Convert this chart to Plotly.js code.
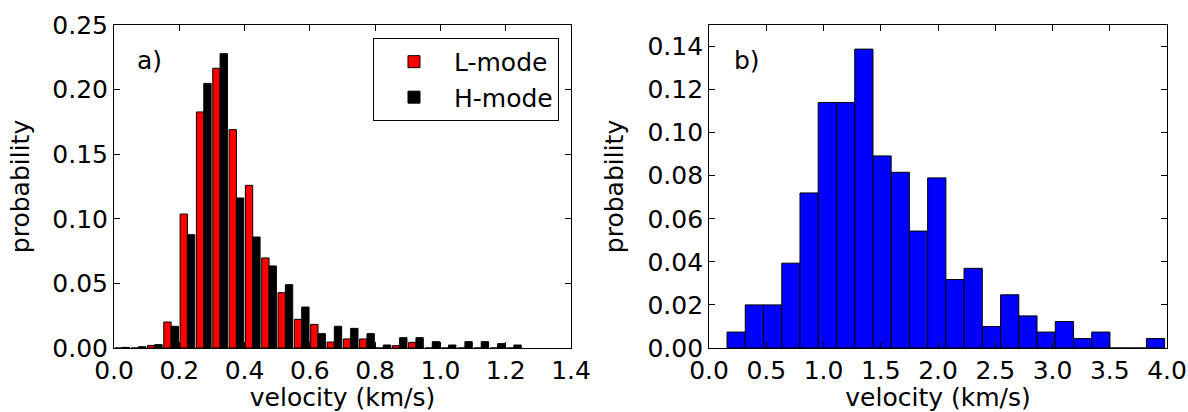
<!DOCTYPE html>
<html>
<head>
<meta charset="utf-8">
<script src="https://cdn.plot.ly/plotly-3.0.1.min.js"></script>
<style>html,body{margin:0;padding:0;background:#fff;}#chart{width:1188px;height:412px;}</style>
</head>
<body>
<div id="chart"></div>
<script>
// ---- Panel a) : velocity histogram, L-mode vs H-mode (bin width 0.05 km/s) ----
const binCentersA = [0.025,0.075,0.125,0.175,0.225,0.275,0.325,0.375,0.425,0.475,0.525,0.575,0.625,0.675,0.725,0.775,0.825,0.875,0.925,0.975,1.025,1.075,1.125,1.175,1.225];
const lMode = [0,0,0.0020,0.0201,0.1037,0.1827,0.2165,0.1690,0.1259,0.0697,0.0428,0.0222,0.0183,0.0046,0.0070,0.0070,0,0.0018,0.0044,0,0,0,0,0,0];
const hMode = [0.0005,0.0010,0.0026,0.0168,0.0877,0.2048,0.2278,0.1161,0.0859,0.0635,0.0490,0.0317,0.0111,0.0168,0.0152,0.0111,0.0023,0.0080,0.0080,0.0049,0.0023,0.0049,0.0049,0.0034,0.0023];

// ---- Panel b) : velocity histogram ----
const binCentersB = [0.237,0.396,0.555,0.715,0.874,1.033,1.192,1.352,1.511,1.670,1.830,1.989,2.148,2.307,2.467,2.626,2.785,2.944,3.104,3.263,3.422,3.582,3.741,3.900];
const probB = [0.0074,0.0200,0.0200,0.0394,0.0720,0.1140,0.1140,0.1388,0.0892,0.0816,0.0543,0.0790,0.0318,0.0370,0.0100,0.0247,0.0149,0.0074,0.0123,0.0044,0.0074,0,0,0.0044];

const xTickA = [0,0.2,0.4,0.6,0.8,1.0,1.2,1.4];
const yTickA = [0,0.05,0.10,0.15,0.20,0.25];
const xTickB = [0,0.5,1.0,1.5,2.0,2.5,3.0,3.5,4.0];
const yTickB = [0,0.02,0.04,0.06,0.08,0.10,0.12,0.14];

const FONT = 'DejaVu Sans, Liberation Sans, sans-serif';
const FS = 25;
const barWA = 0.0225, binWB = 0.1593;

const traces = [
  {type:'bar', name:'L-mode', x:binCentersA, y:lMode, xaxis:'x', yaxis:'y',
   width:barWA, offset:-barWA, marker:{color:'#ff0000', line:{color:'#000', width:1}}},
  {type:'bar', name:'H-mode', x:binCentersA, y:hMode, xaxis:'x', yaxis:'y',
   width:barWA, offset:0, marker:{color:'#000000', line:{color:'#000', width:1}}},
  {type:'bar', name:'b', x:binCentersB, y:probB, xaxis:'x2', yaxis:'y2', showlegend:false,
   width:binWB, marker:{color:'#0000ff', line:{color:'#000', width:1}}}
];

function ax(extra){
  return Object.assign({
    showline:true, linecolor:'#000', linewidth:1, mirror:'ticks',
    ticks:'inside', ticklen:6, tickwidth:1, tickcolor:'#000',
    showgrid:false, zeroline:false, automargin:false,
    tickfont:{family:FONT, size:FS, color:'#000'}
  }, extra);
}

const layout = {
  width:1188, height:412,
  margin:{l:114, r:21, t:25, b:64},
  paper_bgcolor:'#fff', plot_bgcolor:'#fff',
  barmode:'overlay', bargap:0,
  font:{family:FONT, size:FS, color:'#000'},
  showlegend:true,
  legend:{x:0.4226, xanchor:'right', y:0.96, yanchor:'top',
          bordercolor:'#000', borderwidth:1, bgcolor:'#fff', itemwidth:70,
          font:{family:FONT, size:FS, color:'#000'}, tracegroupgap:4},
  xaxis: ax({domain:[0,0.434], range:[0,1.4], tickvals:xTickA, tickformat:'.1f', anchor:'y',
             title:{text:'velocity (km/s)', font:{family:FONT, size:FS}, standoff:4}}),
  yaxis: ax({domain:[0,1], range:[0,0.25], tickvals:yTickA, tickformat:'.2f', anchor:'x',
             title:{text:'probability', font:{family:FONT, size:FS}, standoff:15}}),
  xaxis2: ax({domain:[0.5651,1], range:[0,4.0], tickvals:xTickB, tickformat:'.1f', anchor:'y2',
             title:{text:'velocity (km/s)', font:{family:FONT, size:FS}, standoff:4}}),
  yaxis2: ax({domain:[0,1], range:[0,0.15], tickvals:yTickB, tickformat:'.2f', anchor:'x2',
             title:{text:'probability', font:{family:FONT, size:FS}, standoff:16}}),
  annotations:[
    {text:'a)', xref:'x domain', yref:'y domain', x:0.045, y:0.89, xanchor:'left', yanchor:'middle',
     showarrow:false, font:{family:FONT, size:FS, color:'#000'}},
    {text:'b)', xref:'x2 domain', yref:'y2 domain', x:0.05, y:0.89, xanchor:'left', yanchor:'middle',
     showarrow:false, font:{family:FONT, size:FS, color:'#000'}}
  ]
};

Plotly.newPlot('chart', traces, layout, {staticPlot:true, displayModeBar:false});
</script>
</body>
</html>
